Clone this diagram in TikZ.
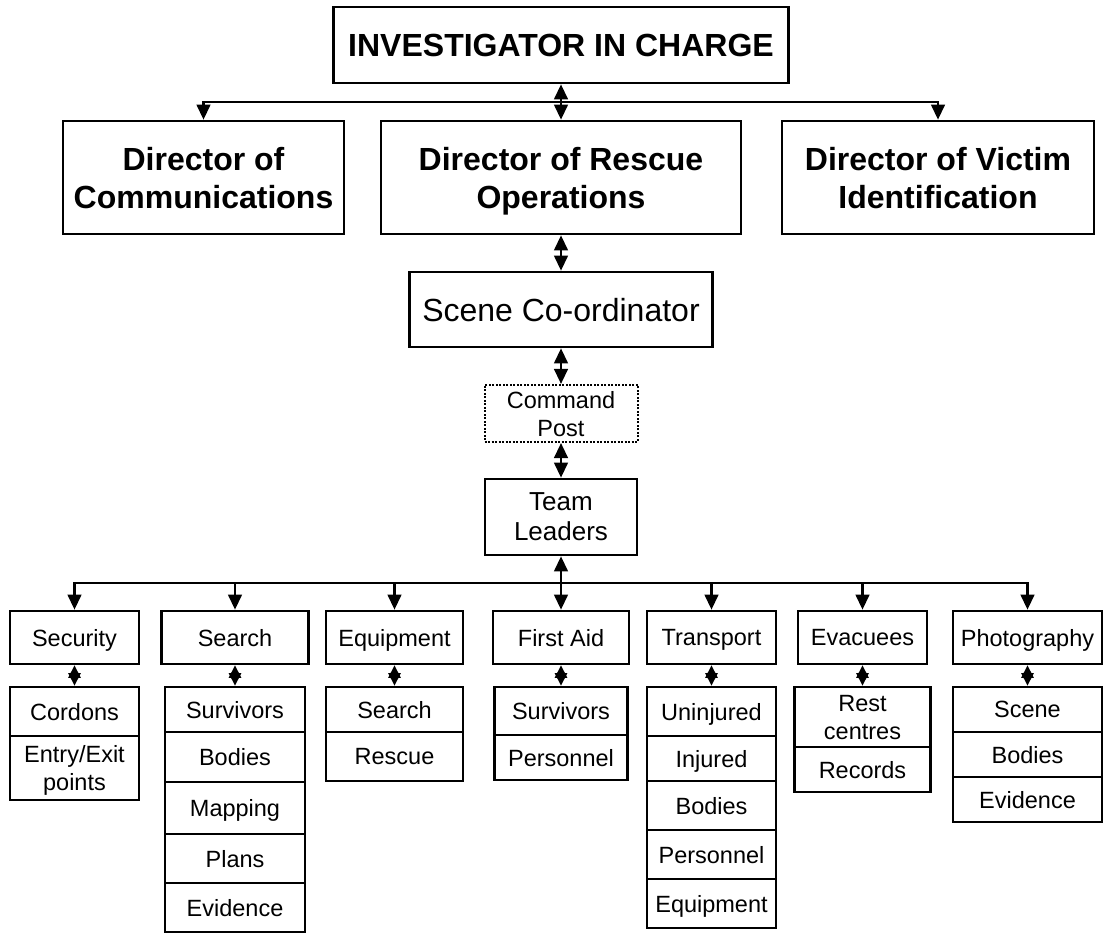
\documentclass[tikz,border=0pt]{standalone}
\usepackage{fontspec}
\setmainfont{Liberation Sans}
\usetikzlibrary{arrows.meta}

% last line of a label: keep its height, drop its depth, so descenders do not shift the text
\newcommand{\nd}[1]{\raisebox{0pt}[\height][0pt]{#1}}

\tikzset{
  frame/.style={draw, line width=2.6pt, align=center, inner sep=2pt},
  bigbox/.style={frame, font=\fontsize{32}{38}\selectfont\bfseries},
  midbox/.style={frame, font=\fontsize{32}{38}\selectfont},
  teambox/.style={frame, font=\fontsize{26}{30}\selectfont},
  postbox/.style={draw, line width=2pt, dash pattern=on 2pt off 1.5pt, align=center, inner sep=2pt,
    font=\fontsize{23.5}{28}\selectfont},
  unitbox/.style={frame, font=\fontsize{23.5}{28}\selectfont},
  cell/.style={frame, font=\fontsize{23.5}{28}\selectfont},
  link/.style={line width=2.6pt},
  dn/.style={link, -{Triangle[length=15pt,width=13.5pt]}},
  bi/.style={link, {Triangle[length=15pt,width=13.5pt]}-{Triangle[length=15pt,width=13.5pt]}},
  mini/.style={link, {Triangle[length=12.5pt,width=12pt]}-{Triangle[length=12.5pt,width=12pt]}},
}

\begin{document}
\begin{tikzpicture}[x=1pt, y=-1pt]
\useasboundingbox (0,0) rectangle (1104,933);

% command chain
\node[bigbox, minimum width=455pt, minimum height=76pt] (iic) at (561,45) {\nd{INVESTIGATOR IN CHARGE}};
\node[bigbox, minimum width=281pt, minimum height=113pt] (comm) at (203.5,177.5) {Director of\\\nd{Communications}};
\node[bigbox, minimum width=360pt, minimum height=113pt] (resc) at (561,177.5) {Director of Rescue\\\nd{Operations}};
\node[bigbox, minimum width=312pt, minimum height=113pt] (vict) at (938,177.5) {Director of Victim\\\nd{Identification}};
\node[midbox, minimum width=303pt, minimum height=75pt] (scene) at (561,309.5) {\nd{Scene Co-ordinator}};
\node[postbox, minimum width=153pt, minimum height=57pt] (post) at (561,413.5) {Command\\\nd{Post}};
\node[teambox, minimum width=152pt, minimum height=76pt] (team) at (561,517) {Team\\\nd{Leaders}};

\coordinate (busA) at (561,102);
\draw[bi] (iic.south) -- (resc.north);
\draw[dn] (busA) -| (comm.north);
\draw[dn] (busA) -| (vict.north);
\draw[bi] (resc.south) -- (scene.north);
\draw[bi] (scene.south) -- (post.north);
\draw[bi] (post.south) -- (team.north);

% team units
\node[unitbox, minimum width=129pt, minimum height=53pt] (sec) at (74.5,637.5) {\nd{Security}};
\node[unitbox, minimum width=147pt, minimum height=53pt] (srch) at (235,637.5) {\nd{Search}};
\node[unitbox, minimum width=137pt, minimum height=53pt] (equip) at (394.5,637.5) {\nd{Equipment}};
\node[unitbox, minimum width=136pt, minimum height=53pt] (aid) at (561,637.5) {\nd{First Aid}};
\node[unitbox, minimum width=129pt, minimum height=53pt] (trans) at (711.5,637.5) {\nd{Transport}};
\node[unitbox, minimum width=129pt, minimum height=53pt] (evac) at (862.5,637.5) {\nd{Evacuees}};
\node[unitbox, minimum width=149pt, minimum height=53pt] (photo) at (1027.5,637.5) {\nd{Photography}};

\coordinate (busB) at (561,583);
\draw[bi] (team.south) -- (aid.north);
\draw[dn] (busB) -| (sec.north);
\draw[dn] (busB) -| (srch.north);
\draw[dn] (busB) -| (equip.north);
\draw[dn] (busB) -| (trans.north);
\draw[dn] (busB) -| (evac.north);
\draw[dn] (busB) -| (photo.north);

% task lists
\node[cell, minimum width=129pt, minimum height=49pt] (sec1) at (74.5,711.5) {\nd{Cordons}};
\node[cell, minimum width=129pt, minimum height=64pt] (sec2) at (74.5,768) {Entry/Exit\\\nd{points}};

\node[cell, minimum width=140pt, minimum height=45pt] (srch1) at (235,709.5) {\nd{Survivors}};
\node[cell, minimum width=140pt, minimum height=50pt] (srch2) at (235,757) {\nd{Bodies}};
\node[cell, minimum width=140pt, minimum height=52pt] (srch3) at (235,808) {\nd{Mapping}};
\node[cell, minimum width=140pt, minimum height=49pt] (srch4) at (235,858.5) {\nd{Plans}};
\node[cell, minimum width=140pt, minimum height=49pt] (srch5) at (235,907.5) {\nd{Evidence}};

\node[cell, minimum width=137pt, minimum height=45pt] (equip1) at (394.5,709.5) {\nd{Search}};
\node[cell, minimum width=137pt, minimum height=49pt] (equip2) at (394.5,756.5) {\nd{Rescue}};

\node[cell, minimum width=133pt, minimum height=48pt] (aid1) at (561,711) {\nd{Survivors}};
\node[cell, minimum width=133pt, minimum height=45pt] (aid2) at (561,757.5) {\nd{Personnel}};

\node[cell, minimum width=129pt, minimum height=49pt] (trans1) at (711.5,711.5) {\nd{Uninjured}};
\node[cell, minimum width=129pt, minimum height=45pt] (trans2) at (711.5,758.5) {\nd{Injured}};
\node[cell, minimum width=129pt, minimum height=49pt] (trans3) at (711.5,805.5) {\nd{Bodies}};
\node[cell, minimum width=129pt, minimum height=49pt] (trans4) at (711.5,854.5) {\nd{Personnel}};
\node[cell, minimum width=129pt, minimum height=49pt] (trans5) at (711.5,903.5) {\nd{Equipment}};

\node[cell, minimum width=136pt, minimum height=60pt] (evac1) at (862.5,717) {Rest\\\nd{centres}};
\node[cell, minimum width=136pt, minimum height=45pt] (evac2) at (862.5,769.5) {\nd{Records}};

\node[cell, minimum width=149pt, minimum height=45pt] (photo1) at (1027.5,709.5) {\nd{Scene}};
\node[cell, minimum width=149pt, minimum height=45pt] (photo2) at (1027.5,754.5) {\nd{Bodies}};
\node[cell, minimum width=149pt, minimum height=45pt] (photo3) at (1027.5,799.5) {\nd{Evidence}};

\draw[mini] (sec.south) -- (sec1.north);
\draw[mini] (srch.south) -- (srch1.north);
\draw[mini] (equip.south) -- (equip1.north);
\draw[mini] (aid.south) -- (aid1.north);
\draw[mini] (trans.south) -- (trans1.north);
\draw[mini] (evac.south) -- (evac1.north);
\draw[mini] (photo.south) -- (photo1.north);
\end{tikzpicture}
\end{document}
